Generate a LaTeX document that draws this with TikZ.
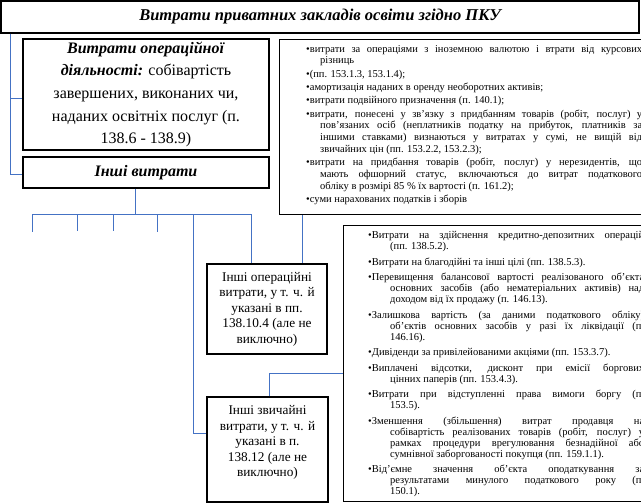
\documentclass[tikz,border=0pt]{standalone}
\usepackage{fontspec}
\setmainfont{Liberation Serif}
\definecolor{linkblue}{RGB}{68,114,196}
\newlength\tw \newlength\hi
\newcommand\jl[1]{\hbox to \tw{#1}}
\newcommand\el[1]{\hbox to \tw{#1\hfil}}
\newcommand\hjl[1]{\hbox to \tw{\hskip\hi\relax #1}}
\newcommand\hel[1]{\hbox to \tw{\hskip\hi\relax #1\hfil}}
\newcommand\bul{•}
\tikzset{
  box/.style={draw=black, line width=1.3pt, inner sep=0pt, fill=white},
  link/.style={draw=linkblue, line width=1pt},
  big/.style={font=\fontsize{16}{22.7}\selectfont, align=center},
  mid/.style={font=\fontsize{13.3}{15.5}\selectfont, align=center, inner sep=0pt},
  small/.style={inner sep=0pt, anchor=base west},
}
\begin{document}
\begin{tikzpicture}[x=1pt,y=-1pt]
\useasboundingbox (0,0) rectangle (641,504);
% title
\node[box, minimum width=638pt, minimum height=32pt, font=\fontsize{16.5}{20}\selectfont\bfseries\itshape] (title) at (320,17) {Витрати приватних закладів освіти згідно ПКУ};
% left boxes
\node[box, big, minimum width=246pt, minimum height=111pt] (ops) at (146,94.5)
  {\textbf{\textit{Витрати операційної}}\\\textbf{\textit{діяльності:}} собівартість\\завершених, виконаних чи,\\наданих освітніх послуг (п.\\138.6 - 138.9)};
\node[box, big, minimum width=246pt, minimum height=31pt, font=\fontsize{16}{20}\selectfont\bfseries\itshape] (other) at (146,172.5) {Інші витрати};
% top right box
\node[box, minimum width=381pt, minimum height=175pt, anchor=north west] (tr) at (279,39) {};
\node[small] (trtext) at (306,52) {\fontsize{10.5}{11.8}\selectfont
 \setlength\tw{336pt}\setlength\hi{14pt}\vtop{\baselineskip=11.8pt
 \jl{\bul витрати за операціями з іноземною валютою і втрати від курсових}
 \hel{різниць}\vskip1.5pt
 \el{\bul(пп. 153.1.3, 153.1.4);}\vskip1.5pt
 \el{\bul амортизація наданих в оренду необоротних активів;}\vskip1.5pt
 \el{\bul витрати подвійного призначення (п. 140.1);}\vskip1.5pt
 \jl{\bul витрати, понесені у зв'язку з придбанням товарів (робіт, послуг) у}
 \hjl{пов'язаних осіб (неплатників податку на прибуток, платників за}
 \hjl{іншими ставками) визнаються у витратах у сумі, не вищій від}
 \hel{звичайних цін (пп. 153.2.2, 153.2.3);}\vskip1.5pt
 \jl{\bul витрати на придбання товарів (робіт, послуг) у нерезидентів, що}
 \hjl{мають офшорний статус, включаються до витрат податкового}
 \hel{обліку в розмірі 85 \% їх вартості (п. 161.2);}\vskip1.5pt
 \el{\bul суми нарахованих податків і зборів}}};
% bottom right box
\node[box, minimum width=317pt, minimum height=276pt, anchor=north west] (br) at (343,225) {};
\node[small] (brtext) at (368,238.5) {\fontsize{10.5}{11}\selectfont
 \setlength\tw{276pt}\setlength\hi{22pt}\vtop{\baselineskip=11pt
 \jl{\bul Витрати на здійснення кредитно-депозитних операцій}
 \hel{(пп. 138.5.2).}\vskip4.5pt
 \el{\bul Витрати на благодійні та інші цілі (пп. 138.5.3).}\vskip4.5pt
 \jl{\bul Перевищення балансової вартості реалізованого об'єкта}
 \hjl{основних засобів (або нематеріальних активів) над}
 \hel{доходом від їх продажу (п. 146.13).}\vskip4.5pt
 \jl{\bul Залишкова вартість (за даними податкового обліку)}
 \hjl{об'єктів основних засобів у разі їх ліквідації (п.}
 \hel{146.16).}\vskip4.5pt
 \el{\bul Дивіденди за привілейованими акціями (пп. 153.3.7).}\vskip4.5pt
 \jl{\bul Виплачені відсотки, дисконт при емісії боргових}
 \hel{цінних паперів (пп. 153.4.3).}\vskip4.5pt
 \jl{\bul Витрати при відступленні права вимоги боргу (п.}
 \hel{153.5).}\vskip4.5pt
 \jl{\bul Зменшення (збільшення) витрат продавця на}
 \hjl{собівартість реалізованих товарів (робіт, послуг) у}
 \hjl{рамках процедури врегулювання безнадійної або}
 \hel{сумнівної заборгованості покупця (пп. 159.1.1).}\vskip4.5pt
 \jl{\bul Від'ємне значення об'єкта оподаткування за}
 \hjl{результатами минулого податкового року (п.}
 \hel{150.1).}}};
% small boxes
\node[box, minimum width=120pt, minimum height=90pt] (io) at (267,309) {};
\node[mid] (iotext) at (io.center) {Інші операційні\\витрати, у т. ч. й\\указані в пп.\\138.10.4 (але не\\виключно)};
\node[box, minimum width=121pt, minimum height=105pt] (zv) at (267.5,449.5) {};
\node[mid] (zvtext) at (267.5,442.5) {Інші звичайні\\витрати, у т. ч. й\\указані в п.\\138.12 (але не\\виключно)};
% connectors
\draw[link] ([xshift=10pt]title.south west) |- ([yshift=-3.5pt]ops.west);
\draw[link] ([xshift=10pt]title.south west) |- ([yshift=-1.5pt]other.west);
\coordinate (bus) at (135,214);
\coordinate (b1) at (32,214);
\coordinate (b2) at (77,214);
\coordinate (b3) at (113,214);
\coordinate (b4) at (157,214);
\coordinate (b5) at (193,214);
\coordinate (b6) at (251,214);
\coordinate (d1) at (32,232);
\coordinate (d2) at (77,231);
\coordinate (d3) at (113,231);
\coordinate (d4) at (157,232);
\draw[link] ([xshift=-11pt]other.south) -- (bus);
\draw[link] (b1) -- (b6);
\draw[link] (b1) -- (d1);
\draw[link] (b2) -- (d2);
\draw[link] (b3) -- (d3);
\draw[link] (b4) -- (d4);
\draw[link] (b5) |- ([yshift=16.5pt]zv.west);
\draw[link] (b6) -- (b6 |- io.north);
\draw[link] ([xshift=23pt]tr.south west) -- ([xshift=23pt]tr.south west |- io.north);
\draw[link] ([xshift=1.5pt]zv.north) |- ([yshift=-10pt]br.west);
\end{tikzpicture}
\end{document}
